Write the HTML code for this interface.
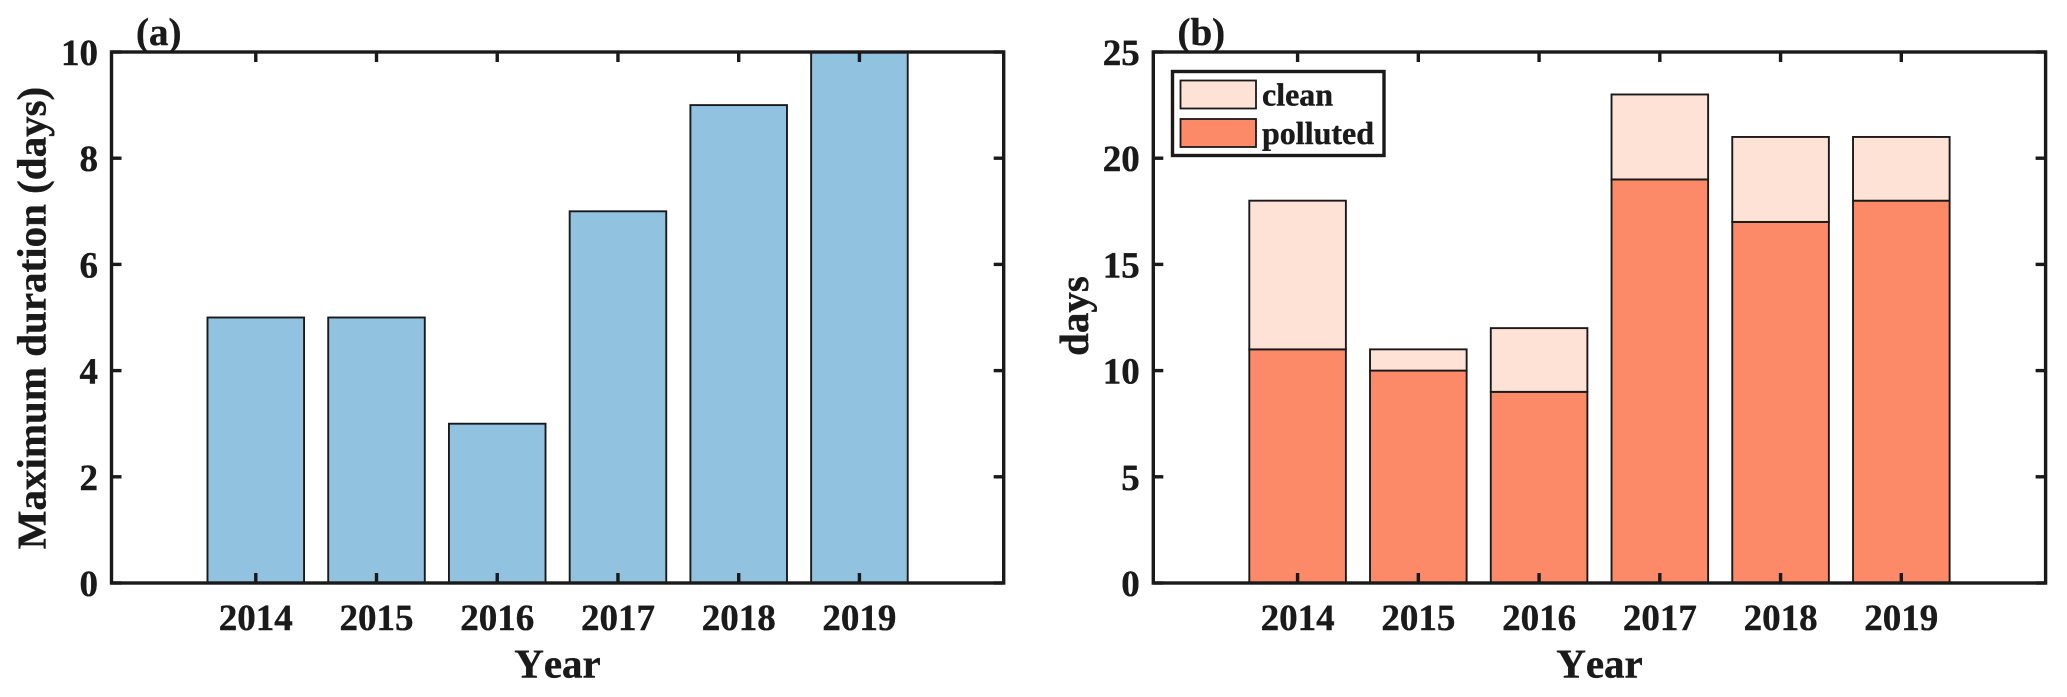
<!DOCTYPE html>
<html lang="en">
<head>
<meta charset="utf-8">
<title>Maximum duration and days by year</title>
<style>
html,body{margin:0;padding:0;background:#fff;}
svg{display:block;}
text{font-family:"Liberation Serif",serif;font-weight:bold;fill:#1a1a1a;stroke:#1a1a1a;stroke-width:0.4px;font-kerning:none;text-rendering:geometricPrecision;}
.tick{font-size:37px;}
.axis-title{font-size:41px;}
.panel{font-size:39px;}
.leg{font-size:32px;}
</style>
</head>
<body>
<svg id="fig" width="2067" height="697" viewBox="0 0 2067 697" xmlns="http://www.w3.org/2000/svg">
  <g id="panelA"></g>
  <g id="panelB"></g>
  <text class="panel" x="136" y="45">(a)</text>
  <text class="panel" x="1177.5" y="45">(b)</text>
  <text class="axis-title" x="45.5" y="318" text-anchor="middle" transform="rotate(-90 45.5 318)">Maximum duration (days)</text>
  <text class="axis-title" x="557.5" y="677.5" text-anchor="middle">Year</text>
  <text class="axis-title" x="1088" y="316" text-anchor="middle" transform="rotate(-90 1088 316)">days</text>
  <text class="axis-title" x="1599.5" y="677.5" text-anchor="middle">Year</text>
  <g>
    <rect x="1172.5" y="71.5" width="211.5" height="84" fill="#fff" stroke="#1a1a1a" stroke-width="3.4"/>
    <rect x="1180.5" y="80.5" width="75.5" height="28" fill="#fee2d6" stroke="#1a1a1a" stroke-width="1.8"/>
    <text class="leg" x="1262" y="105.5">clean</text>
    <rect x="1180.5" y="119" width="75.5" height="28" fill="#fc8a69" stroke="#1a1a1a" stroke-width="1.8"/>
    <text class="leg" x="1262" y="144">polluted</text>
  </g>
</svg>
<script>
const years = [2014, 2015, 2016, 2017, 2018, 2019];
const maxDuration = [5, 5, 3, 7, 9, 10];
const pollutedDays = [11, 10, 9, 19, 17, 18];
const cleanDays = [7, 1, 3, 4, 4, 3];
const yTicksA = [0, 2, 4, 6, 8, 10];
const yTicksB = [0, 5, 10, 15, 20, 25];

const NS = 'http://www.w3.org/2000/svg';
const INK = '#1a1a1a';

function makePanel(groupId, left, right, yMax, prefix) {
  const top = 52, bottom = 583, xMin = 2012.805, xMax = 2020.195;
  return {
    g: document.getElementById(groupId),
    left: left, right: right, top: top, bottom: bottom, prefix: prefix,
    x: function (v) { return left + (v - xMin) / (xMax - xMin) * (right - left); },
    y: function (v) { return bottom - v / yMax * (bottom - top); }
  };
}

function drawBar(p, year, from, to, fill, name) {
  const halfWidth = 0.4;
  const r = document.createElementNS(NS, 'rect');
  r.setAttribute('x', p.x(year - halfWidth));
  r.setAttribute('y', p.y(to));
  r.setAttribute('width', p.x(year + halfWidth) - p.x(year - halfWidth));
  r.setAttribute('height', p.y(from) - p.y(to));
  r.setAttribute('fill', fill);
  r.setAttribute('stroke', INK);
  r.setAttribute('stroke-width', '1.9');
  
  
  p.g.appendChild(r);
}

function drawLine(p, x1, y1, x2, y2, name) {
  const l = document.createElementNS(NS, 'line');
  l.setAttribute('x1', x1);
  l.setAttribute('y1', y1);
  l.setAttribute('x2', x2);
  l.setAttribute('y2', y2);
  l.setAttribute('stroke', INK);
  l.setAttribute('stroke-width', '3.4');
  
  
  p.g.appendChild(l);
}

function drawLabel(p, x, y, anchor, content, name) {
  const t = document.createElementNS(NS, 'text');
  t.setAttribute('class', 'tick');
  t.setAttribute('x', x);
  t.setAttribute('y', y);
  t.setAttribute('text-anchor', anchor);
  t.textContent = content;
  
  
  p.g.appendChild(t);
}

function drawAxes(p, yTicks) {
  const tickLen = 10;
  const frame = document.createElementNS(NS, 'rect');
  frame.setAttribute('x', p.left);
  frame.setAttribute('y', p.top);
  frame.setAttribute('width', p.right - p.left);
  frame.setAttribute('height', p.bottom - p.top);
  frame.setAttribute('fill', 'none');
  frame.setAttribute('stroke', INK);
  frame.setAttribute('stroke-width', '3.4');
  
  
  p.g.appendChild(frame);

  yTicks.forEach(function (v) {
    const yy = p.y(v);
    drawLine(p, p.left, yy, p.left + tickLen, yy, p.prefix + '-y-tick-left-' + v);
    drawLine(p, p.right, yy, p.right - tickLen, yy, p.prefix + '-y-tick-right-' + v);
    drawLabel(p, p.left - 13.5, yy + 13, 'end', String(v), p.prefix + '-y-tick-label-' + v);
  });
  years.forEach(function (v) {
    const xx = p.x(v);
    drawLine(p, xx, p.bottom, xx, p.bottom - tickLen, p.prefix + '-x-tick-bottom-' + v);
    drawLine(p, xx, p.top, xx, p.top + tickLen, p.prefix + '-x-tick-top-' + v);
    drawLabel(p, xx, 630, 'middle', String(v), p.prefix + '-x-tick-label-' + v);
  });
}

const panelA = makePanel('panelA', 111.5, 1003.7, 10, 'panel-a');
years.forEach(function (yr, i) {
  drawBar(panelA, yr, 0, maxDuration[i], '#91c2e0', 'bar-max-duration-' + yr);
});
drawAxes(panelA, yTicksA);

const panelB = makePanel('panelB', 1153.3, 2045.6, 25, 'panel-b');
years.forEach(function (yr, i) {
  drawBar(panelB, yr, 0, pollutedDays[i], '#fc8a69', 'bar-polluted-' + yr);
  drawBar(panelB, yr, pollutedDays[i], pollutedDays[i] + cleanDays[i], '#fee2d6', 'bar-clean-' + yr);
});
drawAxes(panelB, yTicksB);
</script>
</body>
</html>
